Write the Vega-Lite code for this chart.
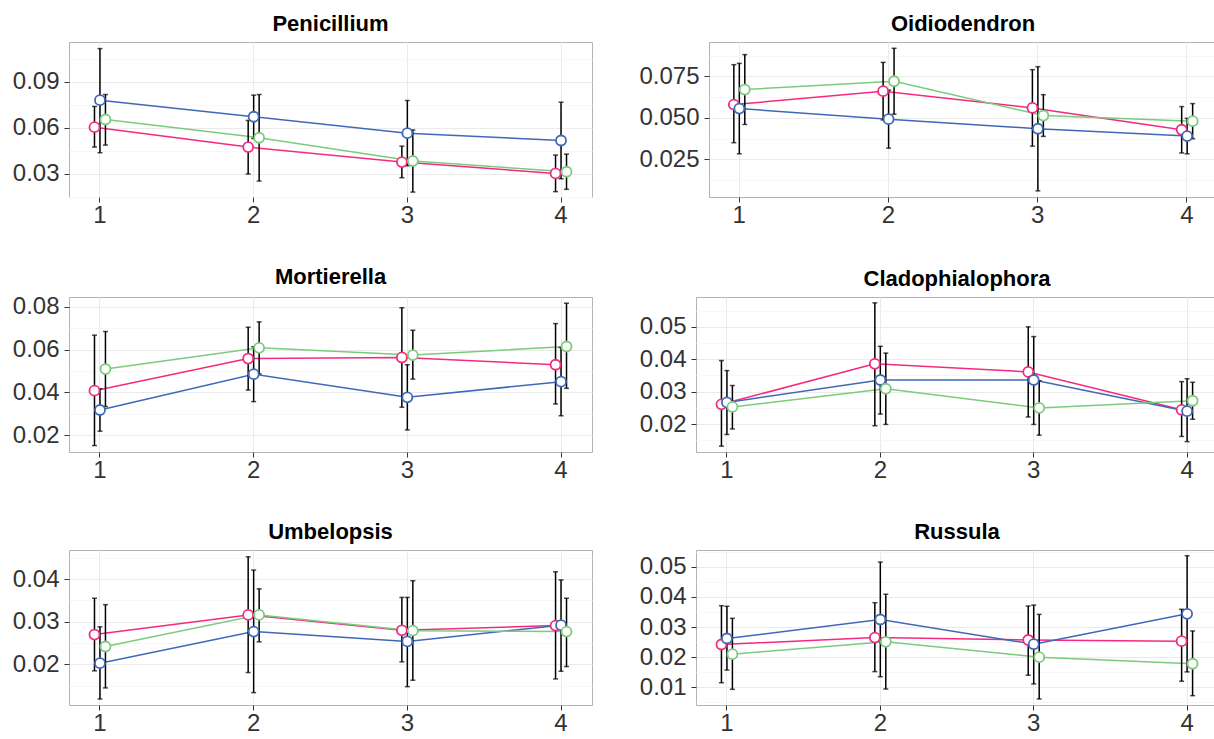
{
  "$schema": "https://vega.github.io/schema/vega-lite/v6.json",
  "padding": {"left": 11, "top": 12, "right": 0, "bottom": 0},
  "background": "white",
  "data": {"values": [
    {"taxon":"Penicillium","time":1,"grp":"A","mean":0.0604,"lo":0.0474,"hi":0.0739},
    {"taxon":"Penicillium","time":1,"grp":"B","mean":0.078,"lo":0.0437,"hi":0.1117},
    {"taxon":"Penicillium","time":1,"grp":"C","mean":0.0654,"lo":0.0487,"hi":0.0817},
    {"taxon":"Penicillium","time":2,"grp":"A","mean":0.0474,"lo":0.0298,"hi":0.0648},
    {"taxon":"Penicillium","time":2,"grp":"B","mean":0.0672,"lo":0.053,"hi":0.0813},
    {"taxon":"Penicillium","time":2,"grp":"C","mean":0.0535,"lo":0.0252,"hi":0.0817},
    {"taxon":"Penicillium","time":3,"grp":"A","mean":0.0376,"lo":0.0274,"hi":0.048},
    {"taxon":"Penicillium","time":3,"grp":"B","mean":0.0565,"lo":0.0352,"hi":0.0778},
    {"taxon":"Penicillium","time":3,"grp":"C","mean":0.0383,"lo":0.018,"hi":0.0586},
    {"taxon":"Penicillium","time":4,"grp":"A","mean":0.0302,"lo":0.0183,"hi":0.0422},
    {"taxon":"Penicillium","time":4,"grp":"B","mean":0.0517,"lo":0.0267,"hi":0.0767},
    {"taxon":"Penicillium","time":4,"grp":"C","mean":0.0313,"lo":0.0198,"hi":0.0428},
    {"taxon":"Oidiodendron","time":1,"grp":"A","mean":0.058,"lo":0.035,"hi":0.0821},
    {"taxon":"Oidiodendron","time":1,"grp":"B","mean":0.0556,"lo":0.0283,"hi":0.0829},
    {"taxon":"Oidiodendron","time":1,"grp":"C","mean":0.0671,"lo":0.046,"hi":0.0882},
    {"taxon":"Oidiodendron","time":2,"grp":"A","mean":0.0661,"lo":0.0487,"hi":0.0835},
    {"taxon":"Oidiodendron","time":2,"grp":"B","mean":0.0492,"lo":0.0317,"hi":0.0667},
    {"taxon":"Oidiodendron","time":2,"grp":"C","mean":0.0721,"lo":0.0522,"hi":0.092},
    {"taxon":"Oidiodendron","time":3,"grp":"A","mean":0.056,"lo":0.0329,"hi":0.0791},
    {"taxon":"Oidiodendron","time":3,"grp":"B","mean":0.0434,"lo":0.0059,"hi":0.0809},
    {"taxon":"Oidiodendron","time":3,"grp":"C","mean":0.0514,"lo":0.0388,"hi":0.064},
    {"taxon":"Oidiodendron","time":4,"grp":"A","mean":0.0428,"lo":0.0288,"hi":0.0568},
    {"taxon":"Oidiodendron","time":4,"grp":"B","mean":0.039,"lo":0.0283,"hi":0.0497},
    {"taxon":"Oidiodendron","time":4,"grp":"C","mean":0.048,"lo":0.0374,"hi":0.0586},
    {"taxon":"Mortierella","time":1,"grp":"A","mean":0.0408,"lo":0.0152,"hi":0.0667},
    {"taxon":"Mortierella","time":1,"grp":"B","mean":0.0318,"lo":0.0219,"hi":0.0417},
    {"taxon":"Mortierella","time":1,"grp":"C","mean":0.0509,"lo":0.0334,"hi":0.0684},
    {"taxon":"Mortierella","time":2,"grp":"A","mean":0.0558,"lo":0.0411,"hi":0.0704},
    {"taxon":"Mortierella","time":2,"grp":"B","mean":0.0485,"lo":0.0357,"hi":0.0613},
    {"taxon":"Mortierella","time":2,"grp":"C","mean":0.0608,"lo":0.0487,"hi":0.0729},
    {"taxon":"Mortierella","time":3,"grp":"A","mean":0.0563,"lo":0.0331,"hi":0.0795},
    {"taxon":"Mortierella","time":3,"grp":"B","mean":0.0377,"lo":0.0225,"hi":0.0529},
    {"taxon":"Mortierella","time":3,"grp":"C","mean":0.0574,"lo":0.0462,"hi":0.069},
    {"taxon":"Mortierella","time":4,"grp":"A","mean":0.0529,"lo":0.0346,"hi":0.0721},
    {"taxon":"Mortierella","time":4,"grp":"B","mean":0.045,"lo":0.0291,"hi":0.0609},
    {"taxon":"Mortierella","time":4,"grp":"C","mean":0.0614,"lo":0.0419,"hi":0.0816},
    {"taxon":"Cladophialophora","time":1,"grp":"A","mean":0.0261,"lo":0.0132,"hi":0.0396},
    {"taxon":"Cladophialophora","time":1,"grp":"B","mean":0.0267,"lo":0.0168,"hi":0.0365},
    {"taxon":"Cladophialophora","time":1,"grp":"C","mean":0.0253,"lo":0.0185,"hi":0.0319},
    {"taxon":"Cladophialophora","time":2,"grp":"A","mean":0.0386,"lo":0.0195,"hi":0.0574},
    {"taxon":"Cladophialophora","time":2,"grp":"B","mean":0.0336,"lo":0.0231,"hi":0.044},
    {"taxon":"Cladophialophora","time":2,"grp":"C","mean":0.0309,"lo":0.0199,"hi":0.0419},
    {"taxon":"Cladophialophora","time":3,"grp":"A","mean":0.0361,"lo":0.0222,"hi":0.05},
    {"taxon":"Cladophialophora","time":3,"grp":"B","mean":0.0336,"lo":0.0199,"hi":0.047},
    {"taxon":"Cladophialophora","time":3,"grp":"C","mean":0.025,"lo":0.0166,"hi":0.0334},
    {"taxon":"Cladophialophora","time":4,"grp":"A","mean":0.0244,"lo":0.0162,"hi":0.0331},
    {"taxon":"Cladophialophora","time":4,"grp":"B","mean":0.024,"lo":0.0146,"hi":0.034},
    {"taxon":"Cladophialophora","time":4,"grp":"C","mean":0.0272,"lo":0.0215,"hi":0.0329},
    {"taxon":"Umbelopsis","time":1,"grp":"A","mean":0.027,"lo":0.0185,"hi":0.0355},
    {"taxon":"Umbelopsis","time":1,"grp":"B","mean":0.0203,"lo":0.0119,"hi":0.0288},
    {"taxon":"Umbelopsis","time":1,"grp":"C","mean":0.0242,"lo":0.0145,"hi":0.034},
    {"taxon":"Umbelopsis","time":2,"grp":"A","mean":0.0316,"lo":0.0181,"hi":0.0452},
    {"taxon":"Umbelopsis","time":2,"grp":"B","mean":0.0277,"lo":0.0134,"hi":0.0421},
    {"taxon":"Umbelopsis","time":2,"grp":"C","mean":0.0316,"lo":0.0253,"hi":0.0377},
    {"taxon":"Umbelopsis","time":3,"grp":"A","mean":0.028,"lo":0.0206,"hi":0.0357},
    {"taxon":"Umbelopsis","time":3,"grp":"B","mean":0.0254,"lo":0.0148,"hi":0.0357},
    {"taxon":"Umbelopsis","time":3,"grp":"C","mean":0.0279,"lo":0.0163,"hi":0.0396},
    {"taxon":"Umbelopsis","time":4,"grp":"A","mean":0.0291,"lo":0.0166,"hi":0.0417},
    {"taxon":"Umbelopsis","time":4,"grp":"B","mean":0.0292,"lo":0.0184,"hi":0.0398},
    {"taxon":"Umbelopsis","time":4,"grp":"C","mean":0.0277,"lo":0.0195,"hi":0.0355},
    {"taxon":"Russula","time":1,"grp":"A","mean":0.0242,"lo":0.0115,"hi":0.0371},
    {"taxon":"Russula","time":1,"grp":"B","mean":0.0262,"lo":0.0157,"hi":0.0369},
    {"taxon":"Russula","time":1,"grp":"C","mean":0.021,"lo":0.0093,"hi":0.0329},
    {"taxon":"Russula","time":2,"grp":"A","mean":0.0265,"lo":0.0152,"hi":0.0381},
    {"taxon":"Russula","time":2,"grp":"B","mean":0.0325,"lo":0.0135,"hi":0.0516},
    {"taxon":"Russula","time":2,"grp":"C","mean":0.0251,"lo":0.0094,"hi":0.0409},
    {"taxon":"Russula","time":3,"grp":"A","mean":0.0257,"lo":0.014,"hi":0.037},
    {"taxon":"Russula","time":3,"grp":"B","mean":0.0243,"lo":0.0111,"hi":0.0373},
    {"taxon":"Russula","time":3,"grp":"C","mean":0.02,"lo":0.0061,"hi":0.0342},
    {"taxon":"Russula","time":4,"grp":"A","mean":0.0253,"lo":0.012,"hi":0.0359},
    {"taxon":"Russula","time":4,"grp":"B","mean":0.0344,"lo":0.0151,"hi":0.0537},
    {"taxon":"Russula","time":4,"grp":"C","mean":0.0178,"lo":0.0072,"hi":0.0287}
  ]},
  "spacing": 37,
  "vconcat": [
    {"hconcat": [
      {"title": "Penicillium", "width": 523, "height": 155,
       "transform": [{"filter": "datum.taxon === 'Penicillium'"}],
       "encoding": {
         "x": {"field": "time", "type": "ordinal", "scale": {"type": "band", "paddingInner": 0.893, "paddingOuter": 0.148}, "axis": {"title": null, "labelAngle": 0, "bandPosition": 0.5, "grid": true, "labelPadding": 1}},
         "xOffset": {"field": "grp", "type": "nominal", "scale": {"domain": ["A", "B", "C"]}},
         "y": {"field": "mean", "type": "quantitative", "scale": {"domain": [0.0148, 0.116], "nice": false, "zero": false},
               "axis": {"title": null, "values": [0.015, 0.03, 0.045, 0.06, 0.075, 0.09, 0.105],
                        "labelExpr": "indexof([0.03,0.06,0.09], datum.value) >= 0 ? format(datum.value, '.2f') : ''",
                        "tickOpacity": {"condition": {"test": "indexof([0.03,0.06,0.09], datum.value) >= 0", "value": 1}, "value": 0},
                        "gridColor": {"condition": {"test": "indexof([0.03,0.06,0.09], datum.value) >= 0", "value": "#EBEBEB"}, "value": "#F7F7F7"}}},
         "color": {"field": "grp", "type": "nominal", "scale": {"domain": ["A", "B", "C"], "range": ["#F52A7E", "#4068B8", "#7CCB7C"]}, "legend": null}
       },
       "layer": [
         {"mark": {"type": "line", "strokeWidth": 1.5}},
         {"mark": {"type": "rule", "color": "black", "strokeWidth": 1.5}, "encoding": {"y": {"field": "lo", "type": "quantitative"}, "y2": {"field": "hi"}, "color": {"value": "black"}}},
         {"mark": {"type": "tick", "color": "black", "size": 5, "thickness": 1.5}, "encoding": {"y": {"field": "lo", "type": "quantitative"}, "color": {"value": "black"}}},
         {"mark": {"type": "tick", "color": "black", "size": 5, "thickness": 1.5}, "encoding": {"y": {"field": "hi", "type": "quantitative"}, "color": {"value": "black"}}},
         {"mark": {"type": "point", "shape": "circle", "filled": false, "fill": "white", "fillOpacity": 1, "opacity": 1, "size": 100, "strokeWidth": 1.8}}
       ]},
      {"title": "Oidiodendron", "width": 508, "height": 155,
       "transform": [{"filter": "datum.taxon === 'Oidiodendron'"}],
       "encoding": {
         "x": {"field": "time", "type": "ordinal", "scale": {"type": "band", "paddingInner": 0.893, "paddingOuter": 0.148}, "axis": {"title": null, "labelAngle": 0, "bandPosition": 0.5, "grid": true, "labelPadding": 1}},
         "xOffset": {"field": "grp", "type": "nominal", "scale": {"domain": ["A", "B", "C"]}},
         "y": {"field": "mean", "type": "quantitative", "scale": {"domain": [0.0022, 0.0958], "nice": false, "zero": false},
               "axis": {"title": null, "values": [0.0125, 0.025, 0.0375, 0.05, 0.0625, 0.075, 0.0875],
                        "labelExpr": "indexof([0.025,0.05,0.075], datum.value) >= 0 ? format(datum.value, '.3f') : ''",
                        "tickOpacity": {"condition": {"test": "indexof([0.025,0.05,0.075], datum.value) >= 0", "value": 1}, "value": 0},
                        "gridColor": {"condition": {"test": "indexof([0.025,0.05,0.075], datum.value) >= 0", "value": "#EBEBEB"}, "value": "#F7F7F7"}}},
         "color": {"field": "grp", "type": "nominal", "scale": {"domain": ["A", "B", "C"], "range": ["#F52A7E", "#4068B8", "#7CCB7C"]}, "legend": null}
       },
       "layer": [
         {"mark": {"type": "line", "strokeWidth": 1.5}},
         {"mark": {"type": "rule", "color": "black", "strokeWidth": 1.5}, "encoding": {"y": {"field": "lo", "type": "quantitative"}, "y2": {"field": "hi"}, "color": {"value": "black"}}},
         {"mark": {"type": "tick", "color": "black", "size": 5, "thickness": 1.5}, "encoding": {"y": {"field": "lo", "type": "quantitative"}, "color": {"value": "black"}}},
         {"mark": {"type": "tick", "color": "black", "size": 5, "thickness": 1.5}, "encoding": {"y": {"field": "hi", "type": "quantitative"}, "color": {"value": "black"}}},
         {"mark": {"type": "point", "shape": "circle", "filled": false, "fill": "white", "fillOpacity": 1, "opacity": 1, "size": 100, "strokeWidth": 1.8}}
       ]}
    ], "spacing": 45},
    {"hconcat": [
      {"title": "Mortierella", "width": 523, "height": 155,
       "transform": [{"filter": "datum.taxon === 'Mortierella'"}],
       "encoding": {
         "x": {"field": "time", "type": "ordinal", "scale": {"type": "band", "paddingInner": 0.893, "paddingOuter": 0.148}, "axis": {"title": null, "labelAngle": 0, "bandPosition": 0.5, "grid": true, "labelPadding": 1}},
         "xOffset": {"field": "grp", "type": "nominal", "scale": {"domain": ["A", "B", "C"]}},
         "y": {"field": "mean", "type": "quantitative", "scale": {"domain": [0.0122, 0.0845], "nice": false, "zero": false},
               "axis": {"title": null, "values": [0.02, 0.03, 0.04, 0.05, 0.06, 0.07, 0.08],
                        "labelExpr": "indexof([0.02,0.04,0.06,0.08], datum.value) >= 0 ? format(datum.value, '.2f') : ''",
                        "tickOpacity": {"condition": {"test": "indexof([0.02,0.04,0.06,0.08], datum.value) >= 0", "value": 1}, "value": 0},
                        "gridColor": {"condition": {"test": "indexof([0.02,0.04,0.06,0.08], datum.value) >= 0", "value": "#EBEBEB"}, "value": "#F7F7F7"}}},
         "color": {"field": "grp", "type": "nominal", "scale": {"domain": ["A", "B", "C"], "range": ["#F52A7E", "#4068B8", "#7CCB7C"]}, "legend": null}
       },
       "layer": [
         {"mark": {"type": "line", "strokeWidth": 1.5}},
         {"mark": {"type": "rule", "color": "black", "strokeWidth": 1.5}, "encoding": {"y": {"field": "lo", "type": "quantitative"}, "y2": {"field": "hi"}, "color": {"value": "black"}}},
         {"mark": {"type": "tick", "color": "black", "size": 5, "thickness": 1.5}, "encoding": {"y": {"field": "lo", "type": "quantitative"}, "color": {"value": "black"}}},
         {"mark": {"type": "tick", "color": "black", "size": 5, "thickness": 1.5}, "encoding": {"y": {"field": "hi", "type": "quantitative"}, "color": {"value": "black"}}},
         {"mark": {"type": "point", "shape": "circle", "filled": false, "fill": "white", "fillOpacity": 1, "opacity": 1, "size": 100, "strokeWidth": 1.8}}
       ]},
      {"title": "Cladophialophora", "width": 522, "height": 155,
       "transform": [{"filter": "datum.taxon === 'Cladophialophora'"}],
       "encoding": {
         "x": {"field": "time", "type": "ordinal", "scale": {"type": "band", "paddingInner": 0.893, "paddingOuter": 0.148}, "axis": {"title": null, "labelAngle": 0, "bandPosition": 0.5, "grid": true, "labelPadding": 1}},
         "xOffset": {"field": "grp", "type": "nominal", "scale": {"domain": ["A", "B", "C"]}},
         "y": {"field": "mean", "type": "quantitative", "scale": {"domain": [0.0114, 0.0592], "nice": false, "zero": false},
               "axis": {"title": null, "values": [0.015, 0.02, 0.025, 0.03, 0.035, 0.04, 0.045, 0.05, 0.055],
                        "labelExpr": "indexof([0.02,0.03,0.04,0.05], datum.value) >= 0 ? format(datum.value, '.2f') : ''",
                        "tickOpacity": {"condition": {"test": "indexof([0.02,0.03,0.04,0.05], datum.value) >= 0", "value": 1}, "value": 0},
                        "gridColor": {"condition": {"test": "indexof([0.02,0.03,0.04,0.05], datum.value) >= 0", "value": "#EBEBEB"}, "value": "#F7F7F7"}}},
         "color": {"field": "grp", "type": "nominal", "scale": {"domain": ["A", "B", "C"], "range": ["#F52A7E", "#4068B8", "#7CCB7C"]}, "legend": null}
       },
       "layer": [
         {"mark": {"type": "line", "strokeWidth": 1.5}},
         {"mark": {"type": "rule", "color": "black", "strokeWidth": 1.5}, "encoding": {"y": {"field": "lo", "type": "quantitative"}, "y2": {"field": "hi"}, "color": {"value": "black"}}},
         {"mark": {"type": "tick", "color": "black", "size": 5, "thickness": 1.5}, "encoding": {"y": {"field": "lo", "type": "quantitative"}, "color": {"value": "black"}}},
         {"mark": {"type": "tick", "color": "black", "size": 5, "thickness": 1.5}, "encoding": {"y": {"field": "hi", "type": "quantitative"}, "color": {"value": "black"}}},
         {"mark": {"type": "point", "shape": "circle", "filled": false, "fill": "white", "fillOpacity": 1, "opacity": 1, "size": 100, "strokeWidth": 1.8}}
       ]}
    ], "spacing": 45},
    {"hconcat": [
      {"title": "Umbelopsis", "width": 523, "height": 155,
       "transform": [{"filter": "datum.taxon === 'Umbelopsis'"}],
       "encoding": {
         "x": {"field": "time", "type": "ordinal", "scale": {"type": "band", "paddingInner": 0.893, "paddingOuter": 0.148}, "axis": {"title": null, "labelAngle": 0, "bandPosition": 0.5, "grid": true, "labelPadding": 1}},
         "xOffset": {"field": "grp", "type": "nominal", "scale": {"domain": ["A", "B", "C"]}},
         "y": {"field": "mean", "type": "quantitative", "scale": {"domain": [0.0105, 0.0468], "nice": false, "zero": false},
               "axis": {"title": null, "values": [0.015, 0.02, 0.025, 0.03, 0.035, 0.04, 0.045],
                        "labelExpr": "indexof([0.02,0.03,0.04], datum.value) >= 0 ? format(datum.value, '.2f') : ''",
                        "tickOpacity": {"condition": {"test": "indexof([0.02,0.03,0.04], datum.value) >= 0", "value": 1}, "value": 0},
                        "gridColor": {"condition": {"test": "indexof([0.02,0.03,0.04], datum.value) >= 0", "value": "#EBEBEB"}, "value": "#F7F7F7"}}},
         "color": {"field": "grp", "type": "nominal", "scale": {"domain": ["A", "B", "C"], "range": ["#F52A7E", "#4068B8", "#7CCB7C"]}, "legend": null}
       },
       "layer": [
         {"mark": {"type": "line", "strokeWidth": 1.5}},
         {"mark": {"type": "rule", "color": "black", "strokeWidth": 1.5}, "encoding": {"y": {"field": "lo", "type": "quantitative"}, "y2": {"field": "hi"}, "color": {"value": "black"}}},
         {"mark": {"type": "tick", "color": "black", "size": 5, "thickness": 1.5}, "encoding": {"y": {"field": "lo", "type": "quantitative"}, "color": {"value": "black"}}},
         {"mark": {"type": "tick", "color": "black", "size": 5, "thickness": 1.5}, "encoding": {"y": {"field": "hi", "type": "quantitative"}, "color": {"value": "black"}}},
         {"mark": {"type": "point", "shape": "circle", "filled": false, "fill": "white", "fillOpacity": 1, "opacity": 1, "size": 100, "strokeWidth": 1.8}}
       ]},
      {"title": "Russula", "width": 522, "height": 155,
       "transform": [{"filter": "datum.taxon === 'Russula'"}],
       "encoding": {
         "x": {"field": "time", "type": "ordinal", "scale": {"type": "band", "paddingInner": 0.893, "paddingOuter": 0.148}, "axis": {"title": null, "labelAngle": 0, "bandPosition": 0.5, "grid": true, "labelPadding": 1}},
         "xOffset": {"field": "grp", "type": "nominal", "scale": {"domain": ["A", "B", "C"]}},
         "y": {"field": "mean", "type": "quantitative", "scale": {"domain": [0.0041, 0.0556], "nice": false, "zero": false},
               "axis": {"title": null, "values": [0.005, 0.01, 0.015, 0.02, 0.025, 0.03, 0.035, 0.04, 0.045, 0.05, 0.055],
                        "labelExpr": "indexof([0.01,0.02,0.03,0.04,0.05], datum.value) >= 0 ? format(datum.value, '.2f') : ''",
                        "tickOpacity": {"condition": {"test": "indexof([0.01,0.02,0.03,0.04,0.05], datum.value) >= 0", "value": 1}, "value": 0},
                        "gridColor": {"condition": {"test": "indexof([0.01,0.02,0.03,0.04,0.05], datum.value) >= 0", "value": "#EBEBEB"}, "value": "#F7F7F7"}}},
         "color": {"field": "grp", "type": "nominal", "scale": {"domain": ["A", "B", "C"], "range": ["#F52A7E", "#4068B8", "#7CCB7C"]}, "legend": null}
       },
       "layer": [
         {"mark": {"type": "line", "strokeWidth": 1.5}},
         {"mark": {"type": "rule", "color": "black", "strokeWidth": 1.5}, "encoding": {"y": {"field": "lo", "type": "quantitative"}, "y2": {"field": "hi"}, "color": {"value": "black"}}},
         {"mark": {"type": "tick", "color": "black", "size": 5, "thickness": 1.5}, "encoding": {"y": {"field": "lo", "type": "quantitative"}, "color": {"value": "black"}}},
         {"mark": {"type": "tick", "color": "black", "size": 5, "thickness": 1.5}, "encoding": {"y": {"field": "hi", "type": "quantitative"}, "color": {"value": "black"}}},
         {"mark": {"type": "point", "shape": "circle", "filled": false, "fill": "white", "fillOpacity": 1, "opacity": 1, "size": 100, "strokeWidth": 1.8}}
       ]}
    ], "spacing": 45}
  ],
  "config": {
    "view": {"stroke": "#B3B3B3", "strokeWidth": 1},
    "axis": {"labelFont": "Liberation Sans", "labelFontSize": 24, "labelColor": "#333333", "tickColor": "#333333", "tickSize": 5, "tickWidth": 1, "domain": false, "gridColor": "#EBEBEB", "gridWidth": 1, "labelPadding": 5},
    "title": {"font": "Liberation Sans", "fontSize": 22, "fontWeight": "bold", "color": "#000000", "anchor": "middle", "frame": "group", "baseline": "alphabetic", "offset": 6}
  }
}
